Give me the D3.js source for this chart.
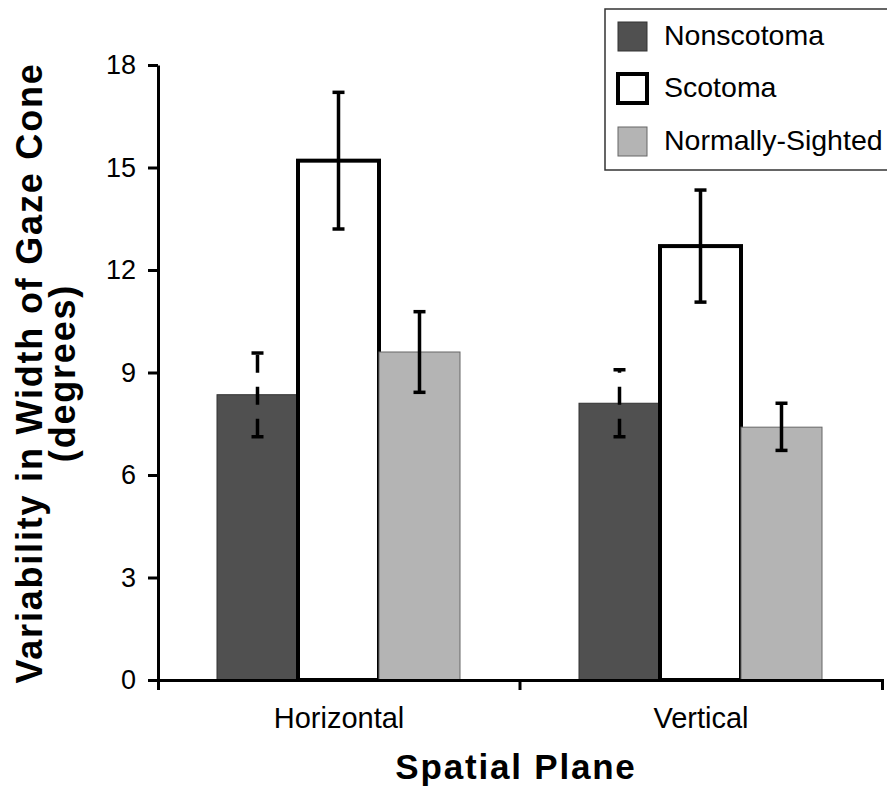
<!DOCTYPE html>
<html>
<head>
<meta charset="utf-8">
<script src="https://cdnjs.cloudflare.com/ajax/libs/d3/7.8.5/d3.min.js"></script>
<style>
  body { margin: 0; background: #fff; }
  text { font-family: Arial, "Liberation Sans", sans-serif; }
</style>
</head>
<body>
<script>
var width = 887;
var height = 791;

// data
var planes = ["Horizontal", "Vertical"];
var groups = ["Nonscotoma", "Scotoma", "Normally-Sighted"];
var means = [[8.35, 15.2, 9.6], [8.1, 12.7, 7.4]];
var lows  = [[7.12, 13.2, 8.42], [7.12, 11.06, 6.72]];
var highs = [[9.57, 17.2, 10.78], [9.08, 14.34, 8.1]];
var yTicks = [0, 3, 6, 9, 12, 15, 18];

var fills   = ["#505050", "#ffffff", "#b4b4b4"];
var strokes = ["#333333", "#000000", "#666666"];
var strokeW = [1, 4, 1];

var svg = d3.select("body")
            .append("svg")
            .attr("width", width)
            .attr("height", height);

var y = d3.scaleLinear().domain([0, 18]).range([680, 65]);
var x0 = d3.scaleBand().domain(planes).range([158, 882]).padding(0);
var x1 = d3.scaleBand().domain(groups).range([59, 302]).padding(0);

// bars
var g = svg.append("g");
planes.forEach(function(p, i) {
    var pg = g.append("g").attr("transform", "translate(" + x0(p) + ",0)");
    groups.forEach(function(s, j) {
        pg.append("rect")
          .attr("x", x1(s))
          .attr("y", y(means[i][j]))
          .attr("width", x1.bandwidth())
          .attr("height", y(0) - y(means[i][j]))
          .attr("fill", fills[j])
          .attr("stroke", strokes[j])
          .attr("stroke-width", strokeW[j]);
    });
    // error bars
    groups.forEach(function(s, j) {
        var cx = x1(s) + x1.bandwidth() / 2;
        var line = pg.append("line")
          .attr("x1", cx).attr("x2", cx)
          .attr("y1", y(lows[i][j])).attr("y2", y(highs[i][j]))
          .attr("stroke", "#000")
          .attr("stroke-width", 3.5);
        if (j === 0) line.attr("stroke-dasharray", "18,14");
        [lows[i][j], highs[i][j]].forEach(function(v) {
            pg.append("line")
              .attr("x1", cx - 6).attr("x2", cx + 6)
              .attr("y1", y(v)).attr("y2", y(v))
              .attr("stroke", "#000")
              .attr("stroke-width", 3.5);
        });
    });
});

// y axis
var yAxis = svg.append("g")
    .attr("transform", "translate(158,0)")
    .call(d3.axisLeft(y).tickValues(yTicks).tickSize(10).tickSizeOuter(0).tickPadding(12));
yAxis.select(".domain").attr("stroke-width", 3);
yAxis.selectAll(".tick line").attr("stroke-width", 3);
yAxis.selectAll(".tick text")
    .attr("font-size", "27px")
    .attr("fill", "#000")
    .style("font-family", "Arial, 'Liberation Sans', sans-serif");

// x axis
var xAxis = svg.append("g")
    .attr("transform", "translate(0,680)")
    .call(d3.axisBottom(x0).tickSize(0).tickSizeOuter(10).tickPadding(27));
xAxis.select(".domain").attr("stroke-width", 3);
xAxis.selectAll(".tick text")
    .attr("font-size", "29px")
    .attr("fill", "#000")
    .style("font-family", "Arial, 'Liberation Sans', sans-serif");
xAxis.append("line")
    .attr("x1", x0("Vertical")).attr("x2", x0("Vertical"))
    .attr("y1", 0).attr("y2", 10)
    .attr("stroke", "#000")
    .attr("stroke-width", 3);

// axis titles
svg.append("text")
   .attr("x", 516)
   .attr("y", 779)
   .attr("text-anchor", "middle")
   .attr("font-size", "35px")
   .attr("font-weight", "bold")
   .attr("letter-spacing", "1.8px")
   .text("Spatial Plane");

var yt = svg.append("text")
   .attr("transform", "translate(42,373) rotate(-90)")
   .attr("text-anchor", "middle")
   .attr("font-size", "36px")
   .attr("font-weight", "bold")
   .attr("letter-spacing", "1.8px");
yt.append("tspan").attr("x", 0).attr("y", 0).text("Variability in Width of Gaze Cone");
yt.append("tspan").attr("x", 0).attr("y", 33).text("(degrees)");

// legend
var legend = svg.append("g");
legend.append("rect")
   .attr("x", 605).attr("y", 9)
   .attr("width", 300).attr("height", 161)
   .attr("fill", "#fff")
   .attr("stroke", "#333")
   .attr("stroke-width", 1.5);
groups.forEach(function(s, j) {
    var top = [22, 74, 127][j];
    legend.append("rect")
       .attr("x", 618).attr("y", top)
       .attr("width", 29).attr("height", 29)
       .attr("fill", fills[j])
       .attr("stroke", strokes[j])
       .attr("stroke-width", strokeW[j]);
    legend.append("text")
       .attr("x", 664)
       .attr("y", top + 23)
       .attr("font-size", "28.5px")
       .text(s);
});
</script>
</body>
</html>
